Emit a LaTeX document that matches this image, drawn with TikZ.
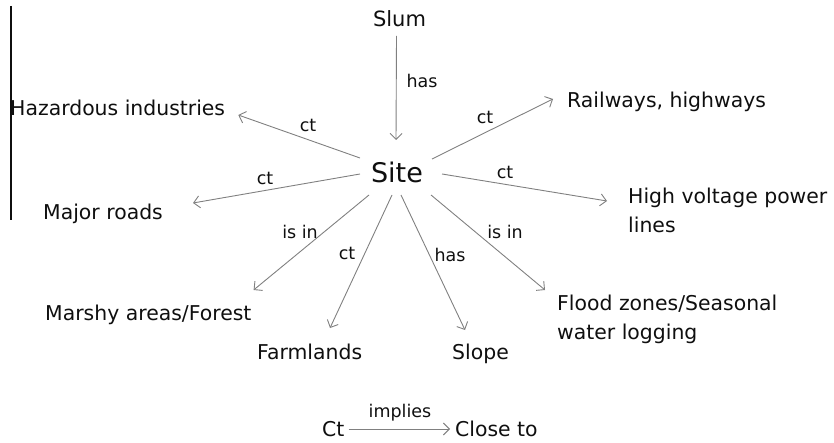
\documentclass[tikz,border=0pt]{standalone}
\usepackage{fontspec}
\setmainfont{DejaVu Sans}
\usetikzlibrary{arrows.meta}
\definecolor{linkgray}{RGB}{128,128,128}
\definecolor{inkblack}{RGB}{15,15,15}
\begin{document}
\begin{tikzpicture}[x=1pt,y=-1pt,
  concept/.style={inner sep=0pt, text=inkblack, font=\fontsize{20.4}{29}\selectfont, anchor=base west, align=left},
  rel/.style={inner sep=0pt, text=inkblack, font=\fontsize{17.5}{21}\selectfont},
  arr/.style={draw=linkgray, line width=0.9pt, -{Straight Barb[length=6pt,width=12pt]}}]
\useasboundingbox (0,0) rectangle (834,443);

% margin rule on the left
\draw[line width=1.2pt, inkblack] (11,6) -- (11,220);

% concepts (two-line nodes are placed by the baseline of their last line)
\node[concept, anchor=base, font=\fontsize{21}{25}\selectfont] (slum) at (399.5,27) {Slum};
\node[concept, anchor=base, font=\fontsize{27}{32}\selectfont] (site) at (397,183) {Site};
\node[concept] (haz)    at (10,116)  {Hazardous industries};
\node[concept] (major)  at (43,220)  {Major roads};
\node[concept] (rail)   at (567,108) {Railways, highways};
\node[concept] (hv)     at (628,233) {High voltage power\\lines};
\node[concept] (marshy) at (45,320)  {Marshy areas/Forest};
\node[concept] (farm)   at (257,359) {Farmlands};
\node[concept] (slope)  at (452,359) {Slope};
\node[concept] (flood)  at (557,339) {Flood zones/Seasonal\\water logging};
\node[concept] (ct)     at (322,436) {Ct};
\node[concept] (close)  at (455,436) {Close to};

% relations
\draw[arr] ([shift={(-3,9)}]slum.base) -- ([shift={(-1,-43)}]site.base);
\draw[arr] ([shift={(-37,-25)}]site.base) -- ([shift={(13,-1)}]haz.base east);
\draw[arr] ([shift={(-37,-9)}]site.base)  -- ([shift={(30,-17)}]major.base east);
\draw[arr] ([shift={(35,-24)}]site.base)  -- ([shift={(-14,-9)}]rail.base west);
\draw[arr] ([shift={(45,-9)}]site.base)   -- ([shift={(-21,-32)}]hv.base west);
\draw[arr] ([shift={(-28,12)}]site.base)  -- ([shift={(2,-30)}]marshy.base east);
\draw[arr] ([shift={(-5,12)}]site.base)   -- ([shift={(73,-31)}]farm.base west);
\draw[arr] ([shift={(4,12)}]site.base)    -- ([shift={(13,-29)}]slope.base west);
\draw[arr] ([shift={(34,12)}]site.base)   -- ([shift={(-12,-49)}]flood.base west);
\draw[arr] ([shift={(4,-7)}]ct.base east) -- ([shift={(-5,-7)}]close.base west);

% relation labels
\node[rel] (l-slum)   at (422,81)  {has};
\node[rel] (l-haz)    at (308,125) {ct};
\node[rel] (l-major)  at (265,178) {ct};
\node[rel] (l-rail)   at (485,117) {ct};
\node[rel] (l-hv)     at (505,172) {ct};
\node[rel] (l-marshy) at (300,232) {is in};
\node[rel] (l-farm)   at (347,253) {ct};
\node[rel] (l-slope)  at (450,255) {has};
\node[rel] (l-flood)  at (505,232) {is in};
\node[rel] (l-ct)     at (400,413) {implies};
\end{tikzpicture}
\end{document}
